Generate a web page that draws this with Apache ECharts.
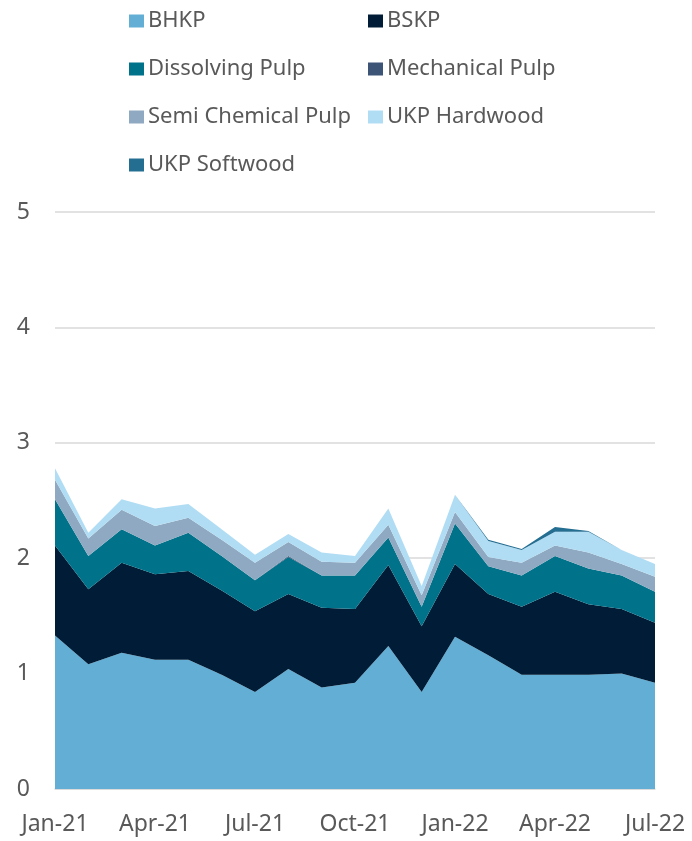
<!DOCTYPE html>
<html>
<head>
<meta charset="utf-8">
<script src="https://cdn.jsdelivr.net/npm/echarts@6/dist/echarts.min.js"></script>
<style>html,body{margin:0;padding:0;background:#fff}#c{width:692px;height:841px}</style>
</head>
<body>
<div id="c"></div>
<script>
const categories = ['Jan-21','Feb-21','Mar-21','Apr-21','May-21','Jun-21','Jul-21','Aug-21','Sep-21','Oct-21','Nov-21','Dec-21','Jan-22','Feb-22','Mar-22','Apr-22','May-22','Jun-22','Jul-22'];
const bhkp = [1.33,1.08,1.18,1.12,1.12,0.99,0.84,1.04,0.88,0.92,1.24,0.84,1.32,1.16,0.99,0.99,0.99,1.00,0.92];
const bskp = [0.78,0.65,0.78,0.74,0.77,0.73,0.70,0.65,0.69,0.64,0.70,0.57,0.63,0.53,0.59,0.72,0.61,0.56,0.52];
const dissolving = [0.40,0.29,0.29,0.25,0.33,0.30,0.27,0.32,0.28,0.29,0.24,0.17,0.35,0.24,0.27,0.31,0.31,0.29,0.27];
const mechanical = [0,0,0,0,0,0,0,0.01,0,0,0,0,0,0,0,0,0,0,0];
const semiChemical = [0.17,0.15,0.17,0.17,0.13,0.14,0.15,0.12,0.12,0.11,0.11,0.10,0.10,0.08,0.11,0.09,0.14,0.10,0.13];
const ukpHardwood = [0.10,0.05,0.09,0.15,0.12,0.09,0.07,0.07,0.08,0.06,0.14,0.08,0.15,0.14,0.11,0.12,0.18,0.12,0.11];
const ukpSoftwood = [0,0,0,0,0,0,0,0,0,0,0,0,0,0.01,0.01,0.04,0.005,0,0];
const yTicks = [0,1,2,3,4,5];

const names = ['BHKP','BSKP','Dissolving Pulp','Mechanical Pulp','Semi Chemical Pulp','UKP Hardwood','UKP Softwood'];
const datas = [bhkp,bskp,dissolving,mechanical,semiChemical,ukpHardwood,ukpSoftwood];
const colors = ['#62AED5','#001C36','#00728A','#3C5577','#8EA9C1','#B1DDF4','#246E92'];

const FONT = 'Noto Sans';
const TXT = '#595959';

const chart = echarts.init(document.getElementById('c'), null, {renderer:'canvas'});
const legendCommon = {
  orient:'vertical', icon:'rect', itemWidth:15, itemHeight:13, itemGap:24,
  textStyle:{fontFamily:FONT, fontSize:22, color:TXT, lineHeight:24, padding:[0,0,0,-1]},
  selectedMode:false
};
chart.setOption({
  animation:false,
  color: colors,
  legend:[
    Object.assign({left:124, top:4, data:['BHKP','Dissolving Pulp','Semi Chemical Pulp','UKP Softwood']}, legendCommon),
    Object.assign({left:363, top:4, data:['BSKP','Mechanical Pulp','UKP Hardwood']}, legendCommon)
  ],
  grid:{left:55, right:37, top:212, bottom:52},
  xAxis:{
    type:'category', data:categories, boundaryGap:false,
    axisTick:{show:false},
    axisLine:{lineStyle:{color:'#d9d9d9', width:1.5}},
    axisLabel:{interval:2, fontFamily:FONT, fontSize:23, color:TXT, margin:24}
  },
  yAxis:{
    type:'value', min:yTicks[0], max:yTicks[yTicks.length-1], interval:1,
    axisLine:{show:false}, axisTick:{show:false},
    axisLabel:{fontFamily:FONT, fontSize:23, color:TXT, margin:25, align:'right'},
    splitLine:{lineStyle:{color:'#d9d9d9', width:1.5}}
  },
  series: names.map((n,i)=>({
    name:n, type:'line', stack:'total', data:datas[i],
    showSymbol:false, symbol:'none',
    lineStyle:{width:0},
    areaStyle:{opacity:1, color:colors[i]},
    itemStyle:{color:colors[i]}
  }))
});
</script>
</body>
</html>
